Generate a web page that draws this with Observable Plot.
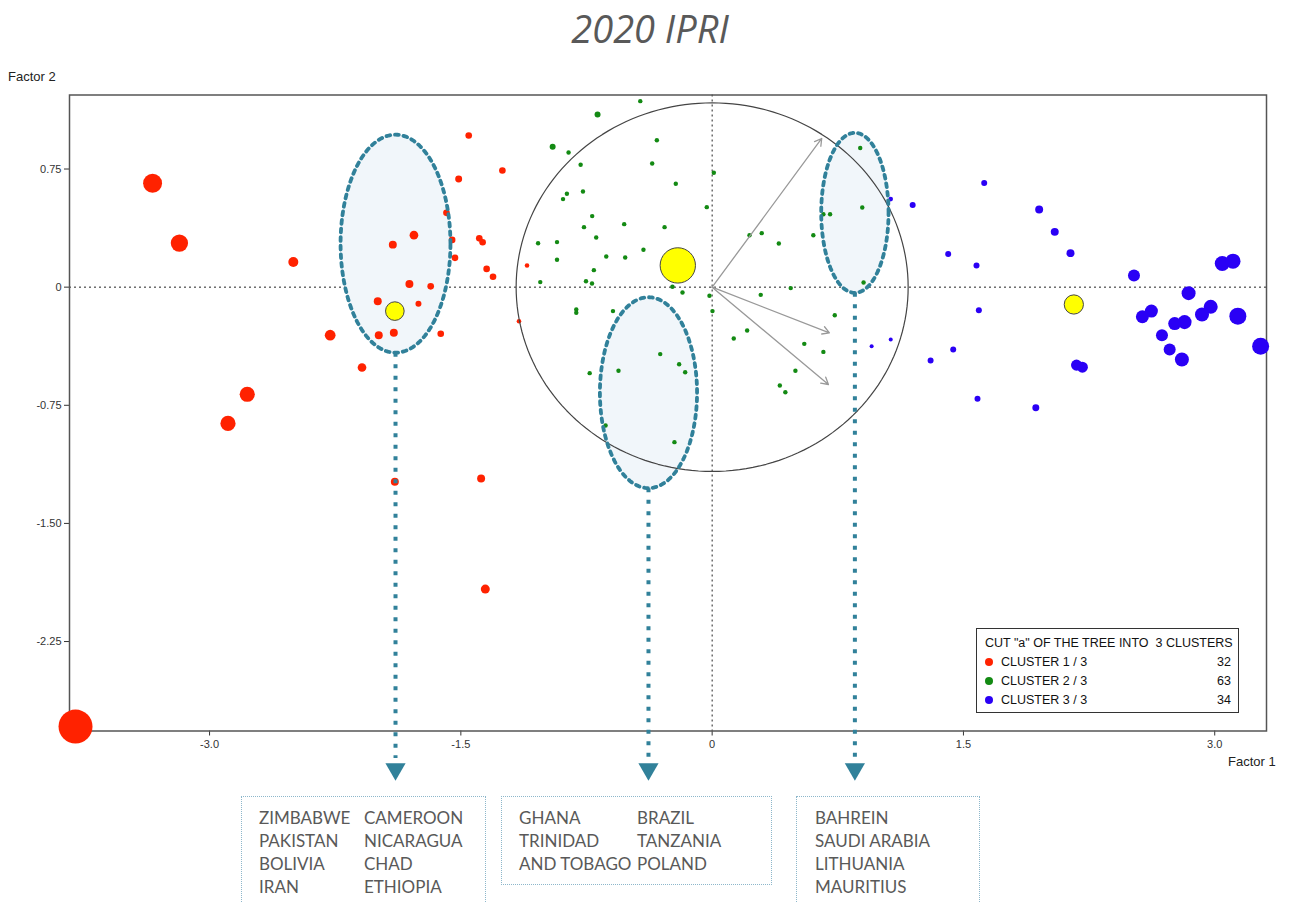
<!DOCTYPE html>
<html>
<head>
<meta charset="utf-8">
<script src="https://cdn.jsdelivr.net/npm/d3@7"></script>
<script src="https://cdn.jsdelivr.net/npm/@observablehq/plot@0.6"></script>
<style>
  body { margin:0; width:1296px; height:903px; position:relative; overflow:hidden; background:#fff; }
  .abs { position:absolute; }
  #title { left:0; width:1300px; top:2px; text-align:center; font-family:"Open Sans", sans-serif; font-style:italic; font-size:38px; line-height:52px; color:#595959; }
  .axlab { font-family:"Liberation Sans", Arial, sans-serif; font-size:13px; color:#222; }
  #legend { left:976px; top:628px; width:263px; height:85px; border:1.5px solid #333; background:#fff;
            font-family:"Liberation Sans Narrow","Liberation Sans", Arial, sans-serif; font-size:12.5px; color:#111; box-sizing:border-box; }
  #legend .row { position:absolute; left:8px; right:7px; height:19px; line-height:19px; }
  #legend .dot { display:inline-block; width:8px; height:8px; border-radius:50%; margin-right:8px; vertical-align:0px; }
  #legend .num { position:absolute; right:0; top:0; }
  .box { border:1px dotted #8db7cb; box-sizing:border-box; font-family:Lato, "Open Sans", sans-serif; font-size:17px; line-height:23px; color:#595959; padding-top:9px; }
  .box .col { position:absolute; top:9px; white-space:pre; }
</style>
</head>
<body>
<div id="title" class="abs">2020 IPRI</div>
<div id="chart" class="abs" style="left:0;top:60px"></div>
<div class="abs axlab" style="left:8px;top:69px">Factor 2</div>
<div class="abs axlab" style="left:1228px;top:754px">Factor 1</div>
<div id="legend" class="abs"></div>
<div id="boxes"></div>
<script>
// ---------- data ----------
// cluster points: [factor1, factor2, weight]
const cluster1 = [
  [-3.80,-2.79,100],[-3.34,0.66,31],[-3.18,0.28,26],[-2.50,0.16,8.7],[-2.28,-0.305,10],
  [-2.09,-0.51,6.5],[-2.775,-0.68,20],[-2.89,-0.865,20],[-1.906,0.27,5.5],[-1.78,0.33,6.5],
  [-1.807,0.02,5.5],[-1.68,0.005,3.8],[-1.996,-0.09,5.5],[-1.753,-0.106,3.1],[-1.99,-0.305,5.5],
  [-1.90,-0.29,5.5],[-1.62,-0.296,3.8],[-1.894,-1.236,5.5],[-1.453,0.963,3.8],[-1.252,0.741,3.8],
  [-1.513,0.686,4.2],[-1.586,0.472,3.8],[-1.552,0.30,3.8],[-1.39,0.31,3.8],[-1.37,0.285,3.8],
  [-1.535,0.186,3.8],[-1.346,0.116,3.8],[-1.308,0.066,3.8],[-1.105,0.138,1.8],[-1.153,-0.216,1.8],
  [-1.379,-1.215,5.5],[-1.354,-1.917,7]
];
const cluster2 = [
  [-0.429,1.181,1.7],[-0.684,1.096,3.1],[-0.952,0.891,3.1],[-0.857,0.855,1.7],[-0.330,0.933,1.7],
  [-0.785,0.777,1.7],[-0.358,0.785,1.7],[0.010,0.726,1.7],[-0.217,0.656,1.7],[-0.867,0.593,1.7],
  [-0.890,0.559,1.7],[-0.771,0.607,1.7],[-0.032,0.508,1.7],[-0.716,0.451,1.7],[-0.525,0.400,1.7],
  [-0.765,0.381,1.7],[-0.284,0.381,1.7],[-0.692,0.315,1.7],[-1.039,0.279,1.7],[-0.926,0.286,1.7],
  [-0.926,0.174,1.7],[-0.632,0.195,1.7],[-0.519,0.188,1.7],[-0.410,0.237,1.7],[-0.706,0.108,1.7],
  [-1.026,0.032,1.7],[-0.753,0.038,1.7],[-0.717,0.023,1.7],[-0.237,0.002,1.7],[-0.177,-0.034,1.7],
  [-0.016,-0.055,1.7],[0.002,-0.152,1.7],[-0.811,-0.142,1.7],[-0.811,-0.163,1.7],[-0.592,-0.152,1.7],
  [-0.731,-0.546,1.7],[-0.559,-0.531,1.7],[-0.310,-0.425,1.7],[-0.197,-0.489,1.7],[-0.161,-0.540,1.7],
  [-0.225,-0.984,1.7],[-0.636,-0.878,1.7],[0.223,0.330,1.7],[0.296,0.343,1.7],[0.398,0.277,1.7],
  [0.604,0.330,1.7],[0.664,0.463,1.7],[0.704,0.463,1.7],[0.884,0.883,1.7],[0.896,0.506,1.7],
  [0.904,0.030,1.7],[0.469,-0.006,1.7],[0.290,-0.049,1.7],[0.209,-0.275,1.7],[0.129,-0.326,1.7],
  [0.732,-0.178,1.7],[0.550,-0.360,1.7],[0.664,-0.411,1.7],[0.497,-0.531,1.7],[0.404,-0.624,1.7],
  [0.437,-0.667,1.7]
];
const cluster3 = [
  [1.624,0.662,3.1],[1.197,0.521,3.1],[1.066,0.559,1.8],[1.952,0.493,5.5],[2.045,0.351,5.5],
  [2.139,0.216,5.5],[1.409,0.210,3.1],[1.578,0.138,3.1],[2.518,0.074,12.5],[3.045,0.150,19.5],
  [3.109,0.165,19.5],[2.844,-0.038,17],[2.622,-0.152,14.6],[2.568,-0.188,14.6],[2.976,-0.125,17],
  [2.924,-0.174,17],[3.138,-0.184,25],[2.761,-0.231,14.6],[2.820,-0.222,17],[2.685,-0.305,12.5],
  [2.731,-0.396,12.5],[2.804,-0.459,17],[3.274,-0.375,25],[2.175,-0.495,10.5],[2.210,-0.508,10.5],
  [1.592,-0.146,3.1],[1.439,-0.396,3.1],[1.304,-0.466,3.1],[1.584,-0.709,3.1],[1.932,-0.766,4.2],
  [1.066,-0.332,1.4],[0.952,-0.375,1.4]
];
const centroids = [[-1.894,-0.152,30],[-0.205,0.138,108],[2.159,-0.110,32]];
// variable vectors (correlation circle)
const vectors = [[0.654,0.944],[0.700,-0.290],[0.694,-0.618]];
const circleRadius = 1.17;
// highlighted groups: centre, radii
const groupCx = [-1.89, -0.38, 0.852];
const groupCy = [0.276, -0.67, 0.472];
const groupRx = [0.328, 0.29, 0.201];
const groupRy = [0.692, 0.606, 0.508];
const leaderEnd = -2.99, leaderTip = -3.06;
const groupCountries = [
  [["ZIMBABWE","PAKISTAN","BOLIVIA","IRAN"],["CAMEROON","NICARAGUA","CHAD","ETHIOPIA"]],
  [["GHANA","TRINIDAD","AND TOBAGO"],["BRAZIL","TANZANIA","POLAND"]],
  [["BAHREIN","SAUDI ARABIA","LITHUANIA","MAURITIUS"]]
];
const clusterNames = ["CLUSTER 1 / 3","CLUSTER 2 / 3","CLUSTER 3 / 3"];
const clusterCounts = [32, 63, 34];
const legendTitle = 'CUT "a" OF THE TREE INTO  3 CLUSTERS';
const xTicks = [-3, -1.5, 0, 1.5, 3];
const yTicks = [0.75, 0, -0.75, -1.5, -2.25];

// ---------- build ----------
const colors = ["#ff2200", "#138a13", "#2a00f5"];
const pts = [cluster1, cluster2, cluster3].flatMap((c, i) => c.map(([x, y, w]) => ({x, y, w, c: i})));
const cents = centroids.map(([x, y, w]) => ({x, y, w}));
const groups = groupCx.map((cx, i) => ({i, cx, cy: groupCy[i], rx: groupRx[i], ry: groupRy[i]}));
const ellipsePts = groups.flatMap(g => d3.range(0, 360, 2).map(a => ({
  id: g.i, x: g.cx + g.rx * Math.cos(a * Math.PI / 180), y: g.cy + g.ry * Math.sin(a * Math.PI / 180)})));
const circlePts = d3.range(0, 361, 2).map(a => ({x: circleRadius * Math.cos(a * Math.PI / 180), y: circleRadius * Math.sin(a * Math.PI / 180)}));
const vec = vectors.map(([x, y]) => ({x, y}));
const teal = "#31819a";

const plot = Plot.plot({
  width: 1296, height: 730,
  marginLeft: 69, marginRight: 30, marginTop: 34.5, marginBottom: 59.5,
  style: {fontFamily: '"Liberation Sans", Arial, sans-serif', fontSize: "11px", color: "#333", background: "transparent", overflow: "visible"},
  x: {domain: [-3.836, 3.309], ticks: xTicks, tickFormat: d => d === 0 ? "0" : d.toFixed(1), label: null, tickSize: 5, tickPadding: 4},
  y: {domain: [-2.818, 1.22], ticks: yTicks, tickFormat: d => d === 0 ? "0" : d.toFixed(2), label: null, tickSize: 5, tickPadding: 3},
  r: {type: "sqrt", domain: [0, 100], range: [0, 17]},
  marks: [
    Plot.ruleY([0], {stroke: "#222", strokeDasharray: "2,3", strokeWidth: 1}),
    Plot.ruleX([0], {stroke: "#222", strokeDasharray: "2,3", strokeWidth: 1}),
    Plot.line(ellipsePts, {x: "x", y: "y", z: "id", curve: "linear-closed", fill: "#f1f6fa", stroke: "none"}),
    Plot.frame({stroke: "#555", strokeWidth: 1.5}),
    Plot.dot(pts, {x: "x", y: "y", r: "w", fill: d => colors[d.c], stroke: "none"}),
    Plot.line(circlePts, {x: "x", y: "y", stroke: "#444", strokeWidth: 1.2}),
    Plot.arrow(vec, {x1: d => 0, y1: d => 0, x2: "x", y2: "y", stroke: "#999", strokeWidth: 1.3, headLength: 9}),
    Plot.dot(cents, {x: "x", y: "y", r: "w", fill: "#ffff00", stroke: "#444", strokeWidth: 1}),
    Plot.line(ellipsePts, {x: "x", y: "y", z: "id", curve: "linear-closed", stroke: teal, strokeWidth: 3.8, strokeDasharray: "3.8,4.8"}),
    Plot.link(groups, {x1: "cx", y1: d => d.cy - d.ry, x2: "cx", y2: d => leaderEnd, stroke: teal, strokeWidth: 4, strokeDasharray: "4,7.5"}),
    Plot.dot(groups, {x: "cx", y: d => leaderTip, symbol: "triangle", r: 7.5, rotate: 180, fill: teal, stroke: "none"})
  ]
});
document.getElementById("chart").appendChild(plot);

// legend
const lg = document.getElementById("legend");
lg.innerHTML = `<div class="row" style="top:5px;white-space:pre">${legendTitle}</div>` +
  clusterNames.map((n, i) => `<div class="row" style="top:${24 + i * 19}px"><span class="dot" style="background:${colors[i]}"></span>${n}<span class="num">${clusterCounts[i]}</span></div>`).join("");

// country boxes
const boxGeom = [{left: 241, width: 245, height: 112, cols: [17, 122]}, {left: 501, width: 271, height: 89, cols: [17, 135]}, {left: 796, width: 184, height: 112, cols: [18]}];
const bx = document.getElementById("boxes");
groupCountries.forEach((cols, i) => {
  const g = boxGeom[i];
  const d = document.createElement("div");
  d.className = "abs box";
  d.style.left = g.left + "px"; d.style.top = "796px"; d.style.width = g.width + "px"; d.style.height = g.height + "px";
  d.innerHTML = cols.map((c, j) => `<div class="col" style="left:${g.cols[j]}px">${c.join("\n")}</div>`).join("");
  bx.appendChild(d);
});
</script>
</body>
</html>
